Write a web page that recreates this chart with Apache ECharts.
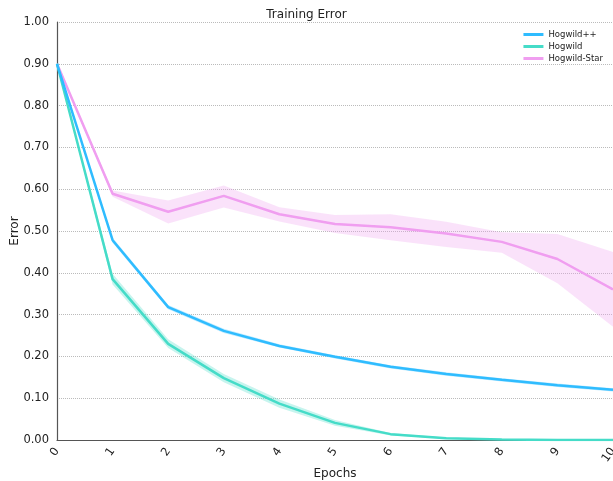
<!DOCTYPE html>
<html>
<head>
<meta charset="utf-8">
<script src="https://cdn.jsdelivr.net/npm/echarts@6/dist/echarts.min.js"></script>
<style>
  html, body { margin: 0; padding: 0; background: #fff; }
  #main { width: 613px; height: 481px; }
</style>
</head>
<body>
<div id="main"></div>
<script>
const epochs = ['0', '1', '2', '3', '4', '5', '6', '7', '8', '9', '10'];

const hogPP = [0.90, 0.478, 0.318, 0.261, 0.225, 0.199, 0.175, 0.158, 0.144, 0.131, 0.120];
const hogPPLow = [0.898, 0.472, 0.313, 0.256, 0.221, 0.195, 0.171, 0.154, 0.140, 0.127, 0.116];
const hogPPHigh = [0.902, 0.484, 0.323, 0.266, 0.229, 0.203, 0.179, 0.162, 0.148, 0.135, 0.124];

const hog = [0.90, 0.385, 0.230, 0.148, 0.087, 0.041, 0.014, 0.004, 0.001, 0.0, 0.0];
const hogLow = [0.898, 0.372, 0.220, 0.138, 0.077, 0.034, 0.011, 0.003, 0.0, 0.0, 0.0];
const hogHigh = [0.902, 0.398, 0.241, 0.158, 0.097, 0.048, 0.017, 0.006, 0.002, 0.001, 0.001];

const hogStar = [0.90, 0.589, 0.546, 0.584, 0.540, 0.517, 0.509, 0.494, 0.474, 0.433, 0.360];
const hogStarLow = [0.898, 0.582, 0.518, 0.556, 0.523, 0.495, 0.478, 0.462, 0.448, 0.375, 0.271];
const hogStarHigh = [0.902, 0.597, 0.573, 0.609, 0.557, 0.538, 0.540, 0.522, 0.497, 0.493, 0.450];

const names = ['Hogwild++', 'Hogwild', 'Hogwild-Star'];
const colors = ['#2fbcff', '#45dcc8', '#f09ef0'];

const chart = echarts.init(document.getElementById('main'));

// shaded band = invisible lower line + stacked (high - low) area
function band(low, high, color, key) {
  return [
    {
      type: 'line',
      stack: key,
      data: low,
      symbol: 'none',
      lineStyle: { opacity: 0 },
      silent: true,
      z: 1
    },
    {
      type: 'line',
      stack: key,
      data: high.map((h, i) => +(h - low[i]).toFixed(4)),
      symbol: 'none',
      lineStyle: { opacity: 0 },
      areaStyle: { color: color, opacity: 0.3 },
      silent: true,
      z: 1
    }
  ];
}

function main(name, ys, color) {
  return {
    name: name,
    type: 'line',
    data: ys,
    symbol: 'none',
    lineStyle: { color: color, width: 2.5 },
    itemStyle: { color: color },
    z: 3
  };
}

const font = 'DejaVu Sans';

const option = {
  animation: false,
  title: {
    text: 'Training Error',
    left: 'center',
    top: 4,
    textStyle: { fontSize: 12, fontWeight: 'normal', color: '#222', fontFamily: font }
  },
  legend: {
    data: names,
    orient: 'vertical',
    right: 5,
    top: 25,
    itemWidth: 20,
    itemHeight: 3,
    itemGap: 3,
    textStyle: { fontSize: 8.5, color: '#222', fontFamily: font },
    icon: 'rect'
  },
  grid: { left: 57, right: 0, top: 22, bottom: 41, outerBoundsMode: 'none' },
  xAxis: {
    type: 'category',
    data: epochs,
    boundaryGap: false,
    name: 'Epochs',
    nameLocation: 'middle',
    nameGap: 28,
    nameMoveOverlap: false,
    nameTextStyle: { fontSize: 12, color: '#222', fontFamily: font },
    axisLine: { lineStyle: { color: '#555', width: 1.2 } },
    axisTick: { show: false },
    splitLine: { show: false },
    axisLabel: { rotate: 55, fontSize: 11.5, color: '#222', fontFamily: font, margin: 9, interval: 0 }
  },
  yAxis: {
    type: 'value',
    min: 0,
    max: 1,
    interval: 0.1,
    name: 'Error',
    nameLocation: 'middle',
    nameGap: 36,
    nameMoveOverlap: false,
    nameTextStyle: { fontSize: 12, color: '#222', fontFamily: font },
    axisLine: { show: true, lineStyle: { color: '#555', width: 1.2 } },
    axisTick: { show: false },
    splitLine: { lineStyle: { color: '#aaa', type: [1, 1], width: 0.8 } },
    axisLabel: {
      fontSize: 11.5, color: '#222', fontFamily: font, margin: 8,
      formatter: v => v.toFixed(2)
    }
  },
  series: [
    ...band(hogStarLow, hogStarHigh, colors[2], 'sb'),
    ...band(hogLow, hogHigh, colors[1], 'hb'),
    ...band(hogPPLow, hogPPHigh, colors[0], 'pb'),
    main(names[2], hogStar, colors[2]),
    main(names[1], hog, colors[1]),
    main(names[0], hogPP, colors[0])
  ]
};

chart.setOption(option);
</script>
</body>
</html>
